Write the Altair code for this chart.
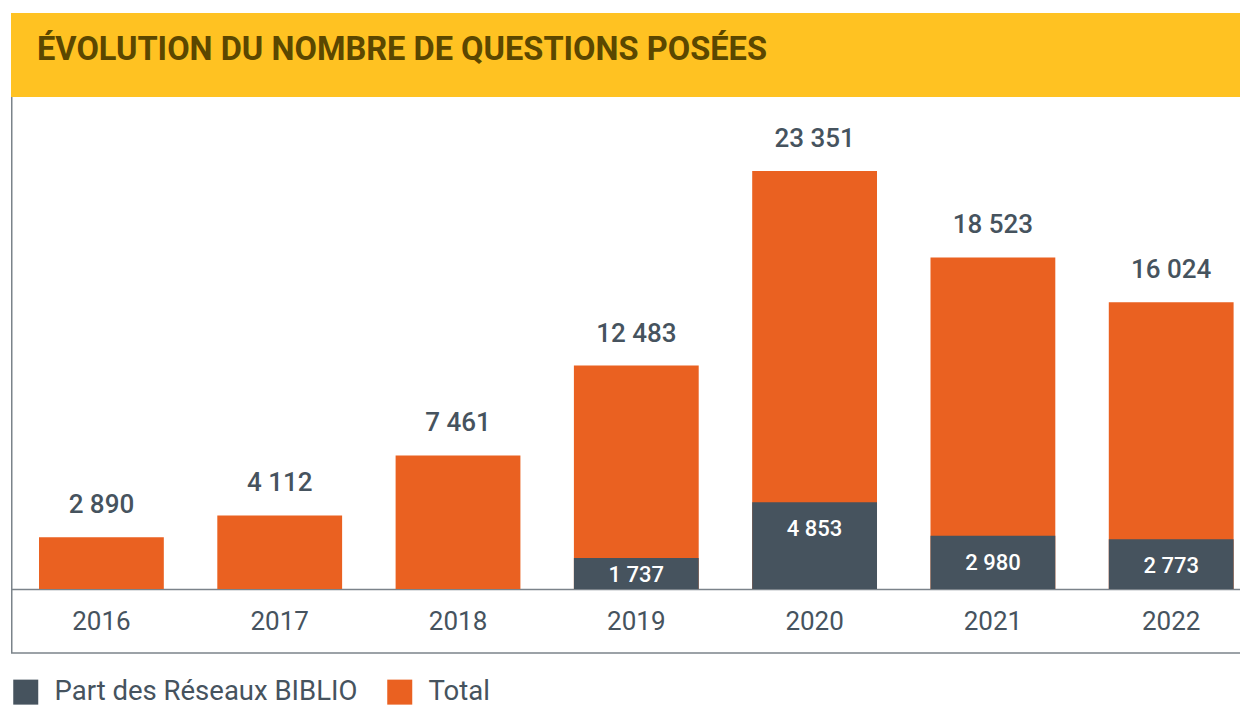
import altair as alt
import pandas as pd

# ---- data ----
years = ["2016", "2017", "2018", "2019", "2020", "2021", "2022"]
totals = [2890, 4112, 7461, 12483, 23351, 18523, 16024]
parts = [None, None, None, 1737, 4853, 2980, 2773]
series_names = ["Part des Réseaux BIBLIO", "Total"]
title_text = "ÉVOLUTION DU NOMBRE DE QUESTIONS POSÉES"

# ---- style ----
ORANGE = "#EA6121"
DARK = "#46535E"
YELLOW = "#FFC222"
TITLE_COL = "#5B4700"
TEXT_COL = "#46535E"
LINE_COL = "#7B838A"
FONT = "Roboto"

W, H = 1229, 492
YMAX = 27490


def fmt(v):
    return f"{int(v):,}".replace(",", " ")


rows = []
for y, t, p in zip(years, totals, parts):
    rows.append({"year": y, "series": "Total", "value": t, "label": fmt(t)})
    if p is not None:
        rows.append({"year": y, "series": "Part des Réseaux BIBLIO", "value": p, "label": fmt(p)})
df = pd.DataFrame(rows)
dummy = pd.DataFrame({"k": [0]})

x_enc = alt.X(
    "year:N",
    sort=years,
    title=None,
    scale=alt.Scale(paddingInner=0.3, paddingOuter=0.0965, align=0.814),
    axis=alt.Axis(
        labelAngle=0,
        labelFont=FONT,
        labelFontSize=26,
        labelColor=TEXT_COL,
        labelBaseline="alphabetic",
        labelPadding=40,
        ticks=False,
        tickSize=0,
        domainColor=LINE_COL,
        domainWidth=1.5,
        grid=False,
    ),
)
y_enc = alt.Y("value:Q", stack=None, axis=None,
              scale=alt.Scale(domain=[0, YMAX], nice=False, zero=True))

color_enc = alt.Color(
    "series:N",
    scale=alt.Scale(domain=series_names, range=[DARK, ORANGE]),
    legend=alt.Legend(
        title=None,
        orient="none",
        legendX=1,
        legendY=581,
        direction="horizontal",
        symbolType="square",
        symbolSize=625,
        symbolStrokeWidth=0,
        symbolOpacity=1,
        labelFont=FONT,
        labelFontSize=27.5,
        labelColor=TEXT_COL,
        labelOffset=15,
        labelLimit=0,
        columnPadding=28,
        padding=0,
    ),
)

base = alt.Chart(df)

band = alt.Chart(dummy).mark_rect(color=YELLOW).encode(
    x=alt.value(0), x2=alt.value(W + 20), y=alt.value(-84), y2=alt.value(0)
)
title = alt.Chart(dummy).mark_text(
    text=title_text, align="left", baseline="alphabetic", font=FONT,
    fontSize=32.6, fontWeight="bold", color=TITLE_COL,
).encode(x=alt.value(26), y=alt.value(-37))

left_border = alt.Chart(dummy).mark_rule(color=LINE_COL, strokeWidth=1.5).encode(
    x=alt.value(0.75), y=alt.value(0), y2=alt.value(556)
)
bottom_border = alt.Chart(dummy).mark_rule(color=LINE_COL, strokeWidth=1.5).encode(
    x=alt.value(0), x2=alt.value(W + 20), y=alt.value(556)
)

total_bars = base.transform_filter(alt.datum.series == "Total").mark_bar().encode(
    x=x_enc, y=y_enc, color=color_enc
)
part_bars = base.transform_filter(alt.datum.series != "Total").mark_bar().encode(
    x=x_enc, y=y_enc, color=color_enc
)
top_labels = base.transform_filter(alt.datum.series == "Total").mark_text(
    baseline="alphabetic", dy=-24, font=FONT, fontSize=26, fontWeight=500, color=TEXT_COL
).encode(x=x_enc, y=y_enc, text="label:N")
inner_labels = base.transform_filter(alt.datum.series != "Total").transform_calculate(
    ly="max(datum.value - 1900, 391)"
).mark_text(
    baseline="alphabetic", font=FONT, fontSize=22, fontWeight=500, color="white"
).encode(x=x_enc, y=alt.Y("ly:Q", axis=None, scale=alt.Scale(domain=[0, YMAX], nice=False)), text="label:N")

chart = alt.layer(
    band, title, left_border, bottom_border, total_bars, part_bars, top_labels, inner_labels
).properties(
    width=W, height=H,
    autosize=alt.AutoSizeParams(type="none"),
    padding={"left": 3, "top": 89, "right": 0, "bottom": 119},
    background="white",
).configure_view(stroke=None)

chart.save("out.html", embed_options={"renderer": "svg", "actions": False})
